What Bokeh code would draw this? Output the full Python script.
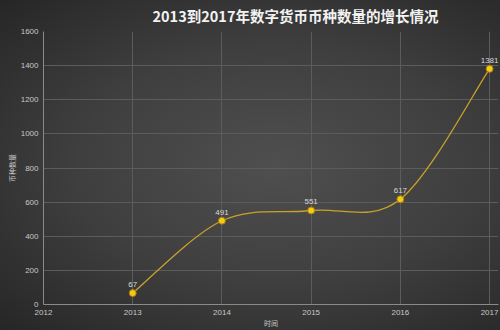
from bokeh.plotting import figure
from bokeh.embed import file_html
from bokeh.resources import INLINE
from bokeh.models import ColumnDataSource, FixedTicker, Range1d, InlineStyleSheet, Label
from bokeh.core.properties import value

years = [2013, 2014, 2015, 2016, 2017]
counts = [67, 491, 551, 617, 1381]
x_ticks = [2012, 2013, 2014, 2015, 2016, 2017]
y_ticks = [0, 200, 400, 600, 800, 1000, 1200, 1400, 1600]

p = figure(width=500, height=330, output_backend="svg", toolbar_location=None,
           x_range=Range1d(2012, 2017.1), y_range=Range1d(0, 1600),
           min_border_left=43, min_border_right=2, min_border_top=30, min_border_bottom=10)
p.stylesheets = [InlineStyleSheet(css=":host { background: radial-gradient(ellipse at 55% 50%, #4f4f4f 0%, #3f3f3f 50%, #262626 100%); }")]
p.border_fill_color = None
p.background_fill_color = None
p.outline_line_color = None

p.title.text = "2013到2017年数字货币币种数量的增长情况"
p.title.text_color = "#f2f2f2"
p.title.text_font = "Noto Sans CJK SC"
p.title.text_font_size = "14.5px"
p.title.text_font_style = "bold"
p.title.align = "left"
p.title.offset = 109
p.title.standoff = 8
p.title.vertical_align = "top"

for ax in (p.xaxis, p.yaxis):
    ax.major_label_text_font = "Liberation Sans"
    ax.major_label_text_font_size = "8px"
    ax.major_label_text_color = "#c8c8c8"
    ax.axis_line_color = "#8a8a8a"
    ax.major_tick_line_color = None
    ax.minor_tick_line_color = None
    ax.major_tick_out = 0
    ax.major_tick_in = 0
    ax.minor_tick_out = 0
    ax.minor_tick_in = 0
    ax.axis_label_text_font = "Noto Sans CJK SC"
    ax.axis_label_text_font_size = "7px"
    ax.axis_label_text_font_style = "normal"
    ax.axis_label_text_color = "#c8c8c8"
p.xaxis.ticker = FixedTicker(ticks=x_ticks)
p.yaxis.ticker = FixedTicker(ticks=y_ticks)
p.xaxis.axis_label = "时间"
p.yaxis.axis_label = "币种数量"
p.xaxis.major_label_standoff = 5
p.yaxis.major_label_standoff = 5
p.xaxis.axis_label_standoff = 0
p.yaxis.axis_label_standoff = 1
p.xgrid.grid_line_color = "#5c5c5c"
p.ygrid.grid_line_color = "#5c5c5c"
p.xgrid.ticker = FixedTicker(ticks=x_ticks)
p.ygrid.ticker = FixedTicker(ticks=y_ticks)

# smooth curve (Catmull-Rom style bezier segments computed from data points)
x0, y0, x1, y1, cx0, cy0, cx1, cy1 = [], [], [], [], [], [], [], []
n = len(years)
for i in range(n - 1):
    pa = (years[max(i - 1, 0)], counts[max(i - 1, 0)])
    p1 = (years[i], counts[i])
    p2 = (years[i + 1], counts[i + 1])
    pb = (years[min(i + 2, n - 1)], counts[min(i + 2, n - 1)])
    x0.append(p1[0]); y0.append(p1[1]); x1.append(p2[0]); y1.append(p2[1])
    cx0.append(p1[0] + (p2[0] - pa[0]) / 6); cy0.append(p1[1] + (p2[1] - pa[1]) / 6)
    cx1.append(p2[0] - (pb[0] - p1[0]) / 6); cy1.append(p2[1] - (pb[1] - p1[1]) / 6)
seg = ColumnDataSource(dict(x0=x0, y0=y0, x1=x1, y1=y1, cx0=cx0, cy0=cy0, cx1=cx1, cy1=cy1))
p.bezier(x0="x0", y0="y0", x1="x1", y1="y1", cx0="cx0", cy0="cy0", cx1="cx1", cy1="cy1",
         source=seg, line_color="#c9a228", line_width=1.3)

src = ColumnDataSource(dict(x=years, y=counts))
p.scatter("x", "y", source=src, size=7, fill_color="#f7c814", line_color="#a07c10", line_width=1)
for xv, yv in zip(years, counts):
    p.add_layout(Label(x=xv, y=yv, text=str(yv), y_offset=6, text_align="center",
                       text_baseline="bottom", text_font="Liberation Sans", text_font_size="8px",
                       text_color="#d8d8d8"))

open("out.html", "w").write(file_html(p, INLINE))
